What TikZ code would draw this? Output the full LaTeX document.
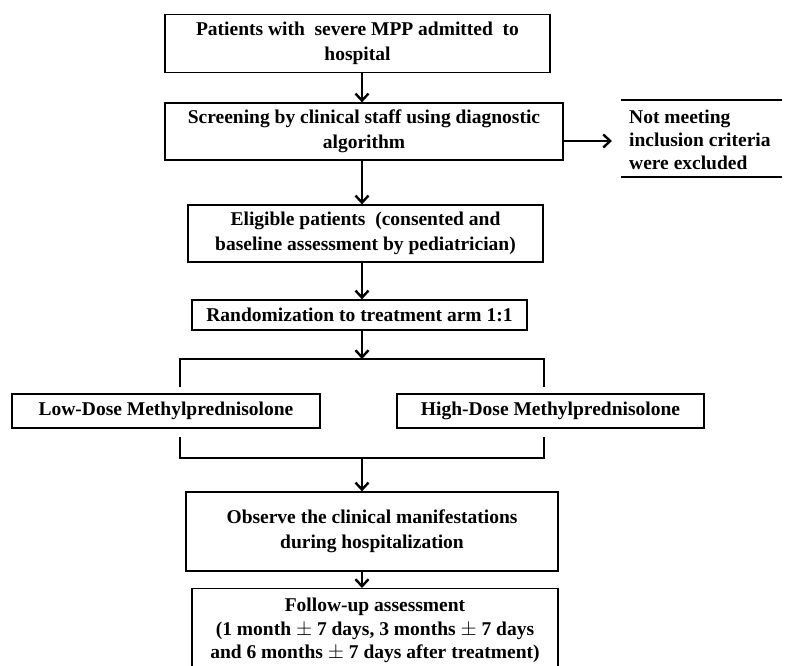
\documentclass[tikz,border=0pt]{standalone}
\usepackage{fontspec}
\setmainfont{Liberation Serif}
\usetikzlibrary{arrows.meta}
\begin{document}
\begin{tikzpicture}[x=1pt,y=-1pt,
  box/.style={draw,line width=1.3pt,align=center,font=\fontsize{19.5}{25.5}\selectfont\bfseries,inner sep=2pt},
  conn/.style={line width=2.2pt,-{Straight Barb[length=7pt,width=13pt,line width=2.4pt]}},
  brk/.style={line width=2.2pt}]
\clip (0,0) rectangle (785,665);
\fill[white] (0,0) rectangle (785,665);
\coordinate (ax) at (362,0);
\node[box,minimum width=385pt,minimum height=58pt] (b1) at (357.5,43.5) {Patients with\ \ severe MPP admitted\ \ to\\hospital};
\node[box,minimum width=398pt,minimum height=57pt] (b2) at (364,131.5) {Screening by clinical staff using diagnostic\\algorithm};
\node[box,minimum width=355pt,minimum height=57pt] (b3) at (365.5,233.5) {Eligible patients\ \ (consented and\\baseline assessment by pediatrician)};
\node[box,minimum width=335pt,minimum height=30pt] (b4) at (359.5,315) {Randomization to treatment arm 1:1};
\node[box,minimum width=308pt,minimum height=34pt] (low) at (166,411) {Low-Dose Methylprednisolone};
\node[box,minimum width=307pt,minimum height=34pt] (high) at (550.5,411) {High-Dose Methylprednisolone};
\node[box,minimum width=372pt,minimum height=79pt] (b5) at (372,531.5) {Observe the clinical manifestations\\during hospitalization};
\node[draw,line width=1.3pt,minimum width=366pt,minimum height=100pt,anchor=north] (b6) at (375,588) {};
\node[align=center,font=\fontsize{19.5}{23.5}\selectfont\bfseries,inner sep=0pt,anchor=north] (b6t) at ([yshift=-10pt]b6.north) {Follow-up assessment\\(1 month $\pm$ 7 days, 3 months $\pm$ 7 days\\and 6 months $\pm$ 7 days after treatment)};
\node[align=left,anchor=west,font=\fontsize{19.5}{23}\selectfont\bfseries,inner sep=0pt] (ex) at (629,140) {Not meeting\\inclusion criteria\\were excluded};
\coordinate (exT1) at (621,100);
\coordinate (exT2) at (782,100);
\coordinate (exB1) at (621,177);
\coordinate (exB2) at (782,177);
\draw[line width=1.3pt] (exT1) -- (exT2) (exB1) -- (exB2);
% bracket coordinates
\coordinate (tl) at (180,387);
\coordinate (tlc) at (180,359);
\coordinate (trc) at (544,359);
\coordinate (tr) at (544,387);
\coordinate (bl) at (180,437);
\coordinate (blc) at (180,458);
\coordinate (brc) at (544,458);
\coordinate (br) at (544,437);
\draw[brk] (tl) -- (tlc) -- (trc) -- (tr);
\draw[brk] (bl) -- (blc) -- (brc) -- (br);
\draw[conn] (b1.south -| ax) -- (b2.north -| ax);
\draw[conn] (b2.south -| ax) -- (b3.north -| ax);
\draw[conn] (b3.south -| ax) -- (b4.north -| ax);
\draw[conn] (b4.south -| ax) -- (tlc -| ax);
\draw[conn] (blc -| ax) -- (b5.north -| ax);
\draw[conn] (b5.south -| ax) -- (b6.north -| ax);
\coordinate (exA) at (612,141);
\draw[conn] (b2.east |- exA) -- (exA);
\end{tikzpicture}
\end{document}
